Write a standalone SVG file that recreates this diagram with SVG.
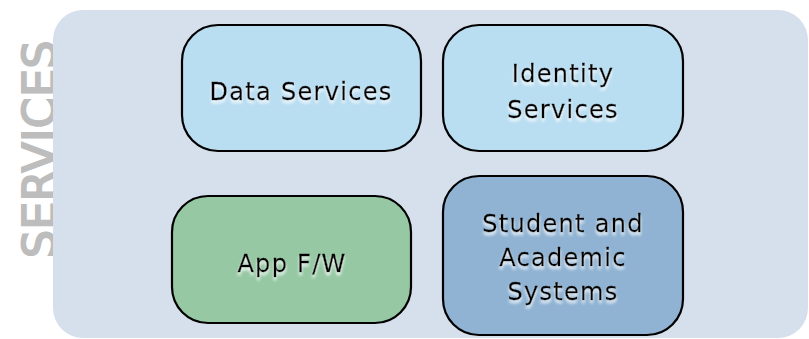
<svg xmlns="http://www.w3.org/2000/svg" width="809" height="339" viewBox="0 0 809 339">
<defs>
<filter id="glow" x="-10%" y="-30%" width="120%" height="170%">
<feGaussianBlur in="SourceAlpha" stdDeviation="1.5" result="b"/>
<feOffset in="b" dx="0" dy="3" result="o"/>
<feFlood flood-color="#ffffff" flood-opacity="0.9"/>
<feComposite in2="o" operator="in" result="s"/>
<feMerge><feMergeNode in="s"/><feMergeNode in="SourceGraphic"/></feMerge>
</filter>
</defs>
<style>
.node{stroke:#000;stroke-width:2.2}
.lbl{font-family:"DejaVu Sans",Verdana,sans-serif;font-size:24px;letter-spacing:1.3px;fill:#000;stroke:#000;stroke-width:0.35;text-anchor:middle;filter:url(#glow)}
.title{font-family:"DejaVu Sans",Verdana,sans-serif;font-size:44px;letter-spacing:0.6px;fill:#bdbdbd;stroke:#bdbdbd;stroke-width:2;text-anchor:middle}
</style>
<rect width="809" height="339" fill="#ffffff"/>
<text class="title" transform="translate(55,149) rotate(-90)">SERVICES</text>
<g id="panel"><rect x="53" y="10" width="755" height="328" rx="30" fill="#d5e0ec"/></g>
<g id="connectors"></g>
<g id="data-services">
<rect class="node" x="182" y="25" width="239" height="126" rx="36" fill="#b9ddf1"/>
<text class="lbl" x="301" y="100">Data Services</text>
</g>
<g id="identity-services">
<rect class="node" x="443" y="25" width="240" height="126" rx="36" fill="#b9ddf1"/>
<text class="lbl" x="563" y="82">Identity</text>
<text class="lbl" x="563" y="118">Services</text>
</g>
<g id="app-fw">
<rect class="node" x="172" y="196" width="239" height="127" rx="36" fill="#96c8a3"/>
<text class="lbl" x="292" y="272">App F/W</text>
</g>
<g id="student-academic">
<rect class="node" x="443" y="176" width="240" height="159" rx="36" fill="#90b3d3"/>
<text class="lbl" x="563" y="232">Student and</text>
<text class="lbl" x="563" y="266">Academic</text>
<text class="lbl" x="563" y="300">Systems</text>
</g>
</svg>
